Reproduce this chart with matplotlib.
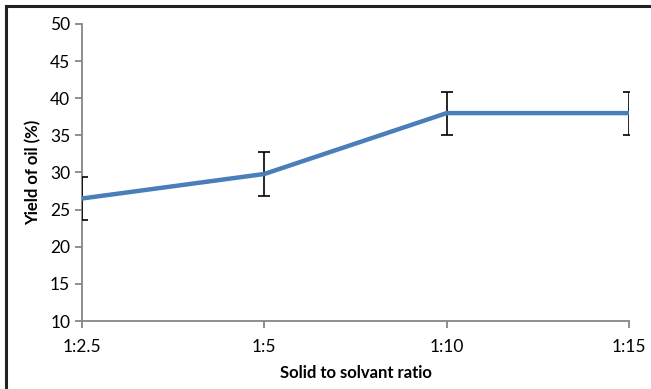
import matplotlib
matplotlib.use('Agg')
import matplotlib.pyplot as plt
from matplotlib.lines import Line2D

# data
ratios = ['1:2.5', '1:5', '1:10', '1:15']
yield_oil = [26.5, 29.8, 38.0, 38.0]
yield_err = [2.9, 2.9, 2.9, 2.9]

plt.rcParams['font.family'] = ['Lato', 'DejaVu Sans']

fig = plt.figure(figsize=(6.51, 3.89), dpi=100)
ax = fig.add_axes([82 / 651, 1 - 321 / 389, (629 - 82) / 651, (321 - 24) / 389])

x = list(range(len(ratios)))
ax.errorbar(x, yield_oil, yerr=yield_err, color='#4a7ebb', lw=3.2,
            ecolor='black', elinewidth=1.2, capsize=4, capthick=1.2, zorder=3)

ax.set_xlim(0, len(ratios) - 1)
ax.set_ylim(10, 50)
ax.set_yticks(range(10, 51, 5))
ax.set_xticks(x)
ax.set_xticklabels(ratios)

for s in ['top', 'right']:
    ax.spines[s].set_visible(False)
for s in ['left', 'bottom']:
    ax.spines[s].set_color('#868686')
    ax.spines[s].set_linewidth(1.3)
ax.tick_params(axis='both', colors='#868686', labelcolor='black', labelsize=12.5, length=5, width=1.3)
ax.tick_params(axis='x', pad=8)

ax.set_xlabel('Solid to solvant ratio', fontsize=12, fontweight='bold', labelpad=7)
ax.set_ylabel('Yield of oil (%)', fontsize=12, fontweight='bold', labelpad=6)

# outer frame: only the top and left edges are inside the image
fx, fy = 6 / 651, 1 - 6 / 389
fig.add_artist(Line2D([fx, fx], [0, fy], transform=fig.transFigure, color='#222222', lw=2.2))
fig.add_artist(Line2D([fx, 1], [fy, fy], transform=fig.transFigure, color='#222222', lw=2.2))

plt.savefig('out.png', dpi=100)
plt.close()
